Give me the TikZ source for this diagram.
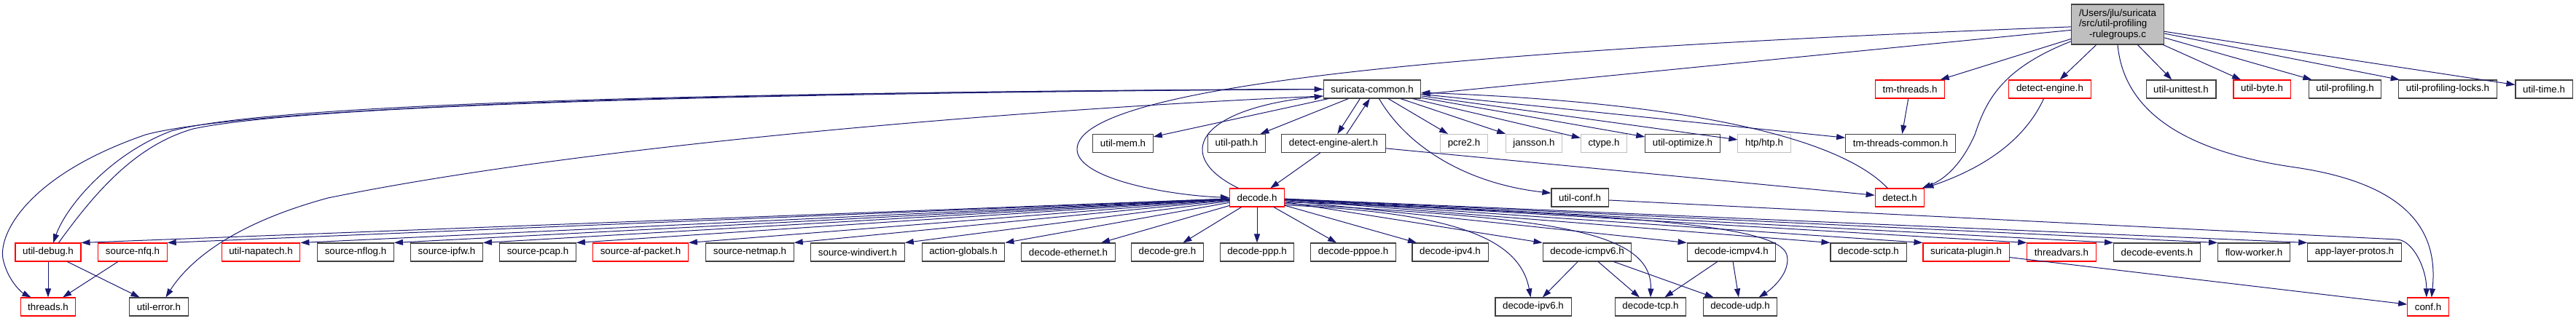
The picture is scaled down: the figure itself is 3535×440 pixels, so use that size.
\documentclass[tikz,border=0pt]{standalone}
\usepackage{fontspec}
\setmainfont{Liberation Sans}
\usepackage{tikz}
\usetikzlibrary{arrows.meta}
\definecolor{edgeblue}{HTML}{191970}
\definecolor{boxred}{HTML}{FF0000}
\definecolor{boxdark}{HTML}{404040}
\definecolor{boxgray}{HTML}{BFBFBF}
\tikzstyle{hdrnode}=[rectangle, draw=boxdark, fill=white, line width=0.8pt, inner xsep=7.6pt, inner ysep=0pt, minimum height=18.75pt, font=\fontsize{10pt}{11pt}\selectfont]
\tikzstyle{rednode}=[hdrnode, draw=boxred]
\tikzstyle{extnode}=[hdrnode, draw=boxgray]
\tikzstyle{rootnode}=[hdrnode, fill=boxgray, minimum height=41.25pt, align=center, inner xsep=8pt]
\tikzstyle{incedge}=[-{Triangle[length=9pt,width=6pt]}, draw=edgeblue, line width=0.75pt]

\begin{document}
\begin{tikzpicture}[x=0.75pt, y=-0.75pt]
        \useasboundingbox (0,0) rectangle (3535,440);
        % file node
        \node[rootnode] (root) at (2906,33.5) {\makebox[79.5pt][l]{/Users/jlu/suricata}\\\makebox[79.5pt][l]{/src/util-profiling}\\-rulegroups.c};
        % first level
        \node[hdrnode] (common) at (1883,122.5) {suricata-common.h};
        \node[rednode] (tmthr) at (2621,122.5) {tm-threads.h};
        \node[rednode] (deteng) at (2813,122.5) {detect-engine.h};
        \node[hdrnode] (unittest) at (2993,122.5) {util-unittest.h};
        \node[rednode] (ubyte) at (3104,122.5) {util-byte.h};
        \node[hdrnode] (uprof) at (3218,122.5) {util-profiling.h};
        \node[hdrnode] (uproflk) at (3359,122.5) {util-profiling-locks.h};
        \node[hdrnode] (utime) at (3491,122.5) {util-time.h};
        % second level
        \node[hdrnode] (umem) at (1541,197) {util-mem.h};
        \node[hdrnode] (upath) at (1697,197) {util-path.h};
        \node[hdrnode] (dalert) at (1830,197) {detect-engine-alert.h};
        \node[extnode] (pcre) at (2009,197) {pcre2.h};
        \node[extnode] (jansson) at (2105,197) {jansson.h};
        \node[extnode] (ctype) at (2201,197) {ctype.h};
        \node[hdrnode] (uopt) at (2309,197) {util-optimize.h};
        \node[extnode] (htp) at (2421,197) {htp/htp.h};
        \node[hdrnode] (tmcommon) at (2608,197) {tm-threads-common.h};
        % third level
        \node[rednode] (decode) at (1725,271.5) {decode.h};
        \node[hdrnode] (uconf) at (2168,271.5) {util-conf.h};
        \node[rednode] (detect) at (2607,271.5) {detect.h};
        % fourth level
        \node[rednode] (udebug) at (66,346.5) {util-debug.h};
        \node[rednode] (nfq) at (182,346.5) {source-nfq.h};
        \node[rednode] (napatech) at (358,346.5) {util-napatech.h};
        \node[hdrnode] (nflog) at (488,346.5) {source-nflog.h};
        \node[hdrnode] (ipfw) at (613,346.5) {source-ipfw.h};
        \node[hdrnode] (pcap) at (738,346.5) {source-pcap.h};
        \node[rednode] (afpacket) at (879,346.5) {source-af-packet.h};
        \node[hdrnode] (netmap) at (1029,346.5) {source-netmap.h};
        \node[hdrnode] (windivert) at (1177,346.5) {source-windivert.h};
        \node[hdrnode] (actglob) at (1322,346.5) {action-globals.h};
        \node[hdrnode] (deth) at (1466,346.5) {decode-ethernet.h};
        \node[hdrnode] (dgre) at (1602,346.5) {decode-gre.h};
        \node[hdrnode] (dppp) at (1725,346.5) {decode-ppp.h};
        \node[hdrnode] (dpppoe) at (1857,346.5) {decode-pppoe.h};
        \node[hdrnode] (dipv4) at (1990,346.5) {decode-ipv4.h};
        \node[hdrnode] (dicmp6) at (2178,346.5) {decode-icmpv6.h};
        \node[hdrnode] (dicmp4) at (2376,346.5) {decode-icmpv4.h};
        \node[hdrnode] (dsctp) at (2564,346.5) {decode-sctp.h};
        \node[rednode] (plugin) at (2698,346.5) {suricata-plugin.h};
        \node[rednode] (tvars) at (2829,346.5) {threadvars.h};
        \node[hdrnode] (devents) at (2960,346.5) {decode-events.h};
        \node[hdrnode] (flowwk) at (3093,346.5) {flow-worker.h};
        \node[hdrnode] (applayer) at (3231,346.5) {app-layer-protos.h};
        % fifth level
        \node[rednode] (threads) at (66,421.5) {threads.h};
        \node[hdrnode] (uerror) at (218,421.5) {util-error.h};
        \node[hdrnode] (dipv6) at (2104,421.5) {decode-ipv6.h};
        \node[hdrnode] (dtcp) at (2265,421.5) {decode-tcp.h};
        \node[hdrnode] (dudp) at (2388,421.5) {decode-udp.h};
        \node[rednode] (conf) at (3332,421.5) {conf.h};
        % includes of the file
        \draw[incedge] (root.187) -- (common.-6);
        \draw[incedge] (root.183) .. controls (2100,65) and (1478,110) .. (1478,205) .. controls (1478,245) and (1600,268) .. (decode.west);
        \draw[incedge] (root) -- (tmthr);
        \draw[incedge] (root.200) .. controls (2745,95) and (2725,140) .. (2710,185) .. controls (2690,230) and (2665,248) .. (detect.23);
        \draw[incedge] (root) -- (deteng);
        \draw[incedge] (root) -- (unittest);
        \draw[incedge] (root) -- (ubyte);
        \draw[incedge] (root) -- (uprof);
        \draw[incedge] (root) -- (uproflk);
        \draw[incedge] (root) -- (utime);
        \draw[incedge] (root.south) .. controls (2915,160) and (3010,210) .. (3150,230) .. controls (3320,255) and (3345,330) .. (conf.70);
        % suricata-common.h
        \draw[incedge] (common) -- (umem);
        \draw[incedge] (common) -- (upath);
        \draw[incedge] (common.218) -- (dalert.68);
        \draw[incedge] (dalert.36) -- (common.256);
        \draw[incedge] (common) -- (pcre);
        \draw[incedge] (common) -- (jansson);
        \draw[incedge] (common) -- (ctype);
        \draw[incedge] (common) -- (uopt);
        \draw[incedge] (common) -- (htp);
        \draw[incedge] (common) -- (tmcommon);
        \draw[incedge] (common.306) .. controls (1930,200) and (2010,252) .. (uconf.171);
        \draw[incedge] (common.west) .. controls (900,126) and (330,150) .. (200,185) .. controls (40,240) and (-2,320) .. (4,355) .. controls (10,385) and (30,402) .. (threads.151);
        \draw[incedge] (common.west) .. controls (900,127) and (360,145) .. (235,180) .. controls (150,212) and (90,285) .. (udebug.61);
        \draw[incedge] (udebug.42) .. controls (130,265) and (185,200) .. (265,177) .. controls (400,148) and (900,129) .. (common.west);
        \draw[incedge] (common.188) .. controls (1400,150) and (800,200) .. (450,272) .. controls (310,310) and (255,365) .. (uerror.54);
        \draw[incedge] (tmthr) -- (tmcommon);
        \draw[incedge] (deteng.237) .. controls (2775,200) and (2710,235) .. (detect.north east);
        \draw[incedge] (dalert) -- (decode);
        \draw[incedge] (dalert) -- (detect);
        \draw[incedge] (detect.142) .. controls (2520,185) and (2300,140) .. (common.-4);
        \draw[incedge] (decode.153) .. controls (1610,215) and (1640,150) .. (common.188);
        % decode.h
        \draw[incedge] (decode) -- (udebug.north east);
        \draw[incedge] (decode) -- (nfq.north east);
        \draw[incedge] (decode) -- (napatech.north east);
        \draw[incedge] (decode) -- (nflog.north east);
        \draw[incedge] (decode) -- (ipfw.north east);
        \draw[incedge] (decode) -- (pcap.north east);
        \draw[incedge] (decode) -- (afpacket.north east);
        \draw[incedge] (decode) -- (netmap.north east);
        \draw[incedge] (decode) -- (windivert.north east);
        \draw[incedge] (decode) -- (actglob.north east);
        \draw[incedge] (decode) -- (deth);
        \draw[incedge] (decode) -- (dgre);
        \draw[incedge] (decode) -- (dppp);
        \draw[incedge] (decode) -- (dpppoe);
        \draw[incedge] (decode) -- (dipv4);
        \draw[incedge] (decode) -- (dicmp6.north west);
        \draw[incedge] (decode) -- (dicmp4.north west);
        \draw[incedge] (decode) -- (dsctp.north west);
        \draw[incedge] (decode) -- (plugin.north west);
        \draw[incedge] (decode) -- (tvars.north west);
        \draw[incedge] (decode) -- (devents.north west);
        \draw[incedge] (decode) -- (flowwk.north west);
        \draw[incedge] (decode) -- (applayer.north west);
        \draw[incedge] (decode.-15) .. controls (1990,292) and (2085,325) .. (dipv6.105);
        \draw[incedge] (decode.-12) .. controls (2100,300) and (2268,310) .. (dtcp.north);
        \draw[incedge] (decode.-9) .. controls (2250,295) and (2440,310) .. (2452,350) .. controls (2458,375) and (2430,398) .. (dudp.27);
        % lower levels
        \draw[incedge] (udebug) -- (threads);
        \draw[incedge] (udebug) -- (uerror);
        \draw[incedge] (nfq) -- (threads);
        \draw[incedge] (dicmp6) -- (dipv6);
        \draw[incedge] (dicmp6) -- (dtcp);
        \draw[incedge] (dicmp6) -- (dudp);
        \draw[incedge] (dicmp4) -- (dtcp);
        \draw[incedge] (dicmp4) -- (dudp);
        \draw[incedge] (uconf.-5) -- (3290,329) .. controls (3312,331) and (3330,370) .. (conf.100);
        \draw[incedge] (plugin) -- (conf);
      \end{tikzpicture}
\end{document}
